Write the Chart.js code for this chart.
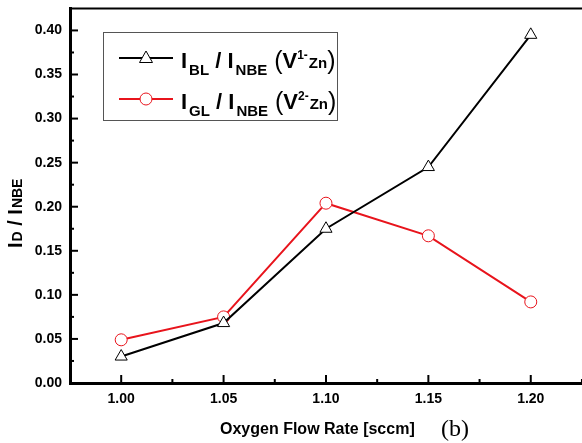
<!DOCTYPE html>
<html>
<head>
<meta charset="utf-8">
<script src="https://cdn.jsdelivr.net/npm/chart.js@4.4.1/dist/chart.umd.min.js"></script>
<style>
  html, body { margin: 0; padding: 0; background: #fff; overflow: hidden; }
  #wrap { width: 600px; height: 443px; position: relative; }
</style>
</head>
<body>
<div id="wrap"><canvas id="ratioChart"></canvas></div>
<script>
const flowRates = [1.0, 1.05, 1.1, 1.15, 1.2];
const blueRatio = [0.030, 0.068, 0.175, 0.245, 0.395];
const greenRatio = [0.049, 0.075, 0.204, 0.167, 0.092];
const xTickValues = [1.0, 1.05, 1.1, 1.15, 1.2];
const yTickValues = [0, 0.05, 0.1, 0.15, 0.2, 0.25, 0.3, 0.35, 0.4];

const sans = "'Liberation Sans', Arial, sans-serif";

// draw text pieces [text, size, dy, weight, gapAfter] left to right
function drawRich(ctx, parts, x, y) {
  let cx = x;
  parts.forEach((p) => {
    ctx.font = `${p[3] || "bold"} ${p[1]}px ${sans}`;
    ctx.fillText(p[0], cx, y + (p[2] || 0));
    cx += ctx.measureText(p[0]).width + (p[4] || 0);
  });
  return cx;
}

const framePlugin = {
  id: "frame",
  afterDatasetsDraw(chart) {
    const { ctx, chartArea: a, scales } = chart;
    const xs = scales.x;
    const ys = scales.y;
    ctx.save();
    ctx.strokeStyle = "#000";
    // top frame
    ctx.lineWidth = 2;
    ctx.beginPath();
    ctx.moveTo(a.left, a.top);
    ctx.lineTo(a.right, a.top);
    ctx.stroke();
    // inward ticks
    ctx.lineWidth = 2;
    xTickValues.forEach((v) => {
      const px = xs.getPixelForValue(v);
      ctx.beginPath();
      ctx.moveTo(px, a.bottom);
      ctx.lineTo(px, a.bottom - 8);
      ctx.stroke();
      const pm = xs.getPixelForValue(v + 0.025);
      ctx.beginPath();
      ctx.moveTo(pm, a.bottom);
      ctx.lineTo(pm, a.bottom - 4);
      ctx.stroke();
    });
    yTickValues.forEach((v) => {
      const py = ys.getPixelForValue(v);
      ctx.beginPath();
      ctx.moveTo(a.left, py);
      ctx.lineTo(a.left + 8, py);
      ctx.stroke();
      if (v < 0.4) {
        const pm = ys.getPixelForValue(v + 0.025);
        ctx.beginPath();
        ctx.moveTo(a.left, pm);
        ctx.lineTo(a.left + 4, pm);
        ctx.stroke();
      }
    });

    // legend
    ctx.lineWidth = 1;
    ctx.strokeStyle = "#555";
    ctx.strokeRect(103.5, 32.5, 234, 88);
    const rows = [
      { color: "#000", style: "triangle", y: 58, sub: "BL", sup: "1-" },
      { color: "#e8141c", style: "circle", y: 99, sub: "GL", sup: "2-" },
    ];
    rows.forEach((r) => {
      ctx.strokeStyle = r.color;
      ctx.lineWidth = 2;
      ctx.beginPath();
      ctx.moveTo(119, r.y);
      ctx.lineTo(173, r.y);
      ctx.stroke();
      ctx.fillStyle = "#fff";
      ctx.lineWidth = 1;
      ctx.beginPath();
      if (r.style === "circle") {
        ctx.arc(146, r.y, 6, 0, Math.PI * 2);
      } else {
        ctx.moveTo(146, r.y - 7);
        ctx.lineTo(152.5, r.y + 4.5);
        ctx.lineTo(139.5, r.y + 4.5);
        ctx.closePath();
      }
      ctx.fill();
      ctx.stroke();
      ctx.fillStyle = "#000";
      ctx.textBaseline = "alphabetic";
      ctx.textAlign = "left";
      drawRich(ctx, [
        ["I", 22, 0, "bold", 2],
        [r.sub, 15, 7],
        [" / ", 22, 0],
        ["I", 22, 0, "bold", 2],
        ["NBE", 15, 7],
        [" (", 25, 1, "normal"],
        ["V", 22, 0],
        [r.sup, 12, -9, "bold", 1],
        ["Zn", 15, 0],
        [")", 25, 1, "normal"],
      ], 181, r.y + 10);
    });

    // axis titles
    ctx.fillStyle = "#000";
    ctx.font = `bold 16px ${sans}`;
    ctx.textAlign = "left";
    ctx.fillText("Oxygen Flow Rate [sccm]", 220, 434);
    ctx.font = "24px 'Liberation Serif', 'Times New Roman', serif";
    ctx.fillText("(b)", 441, 436);

    ctx.translate(22, 248);
    ctx.rotate(-Math.PI / 2);
    drawRich(ctx, [
      ["I", 20, 0, "bold", 1],
      ["D", 14, 0],
      [" / I", 20, 0, "bold", 1],
      ["NBE", 14, 0],
    ], 0, 0);
    ctx.restore();
  },
};

const ctx = document.getElementById("ratioChart").getContext("2d");

new Chart(ctx, {
  type: "line",
  data: {
    datasets: [
      {
        label: "IBL / INBE (V1- Zn)",
        data: flowRates.map((x, i) => ({ x: x, y: blueRatio[i] })),
        borderColor: "#000",
        borderWidth: 2,
        pointStyle: "triangle",
        pointRadius: 7,
        pointBorderWidth: 1,
        pointBorderColor: "#000",
        pointBackgroundColor: "#fff",
        tension: 0,
      },
      {
        label: "IGL / INBE (V2- Zn)",
        data: flowRates.map((x, i) => ({ x: x, y: greenRatio[i] })),
        borderColor: "#e8141c",
        borderWidth: 2,
        pointStyle: "circle",
        pointRadius: 6,
        pointBorderWidth: 1,
        pointBorderColor: "#e8141c",
        pointBackgroundColor: "#fff",
        tension: 0,
      },
    ],
  },
  options: {
    responsive: true,
    maintainAspectRatio: false,
    animation: false,
    layout: { padding: { top: 5, right: 16, left: 0, bottom: 0 } },
    plugins: {
      legend: { display: false },
      tooltip: { enabled: false },
    },
    scales: {
      x: {
        type: "linear",
        min: 0.975,
        max: 1.226,
        afterBuildTicks: (s) => {
          s.ticks = xTickValues.map((v) => ({ value: v }));
        },
        afterFit: (s) => {
          s.height = 60;
        },
        grid: { display: false },
        border: { display: true, width: 3, color: "#000" },
        ticks: {
          padding: 0,
          color: "#000",
          font: { family: sans, size: 14, weight: "bold" },
          callback: (v) => Number(v).toFixed(2),
          maxRotation: 0,
        },
      },
      y: {
        min: 0,
        max: 0.425,
        afterBuildTicks: (s) => {
          s.ticks = yTickValues.map((v) => ({ value: v }));
        },
        afterFit: (s) => {
          s.width = 70;
        },
        grid: { display: false },
        border: { display: true, width: 3, color: "#000" },
        ticks: {
          padding: 0,
          color: "#000",
          font: { family: sans, size: 14, weight: "bold" },
          callback: (v) => Number(v).toFixed(2),
        },
      },
    },
  },
  plugins: [framePlugin],
});
</script>
</body>
</html>
